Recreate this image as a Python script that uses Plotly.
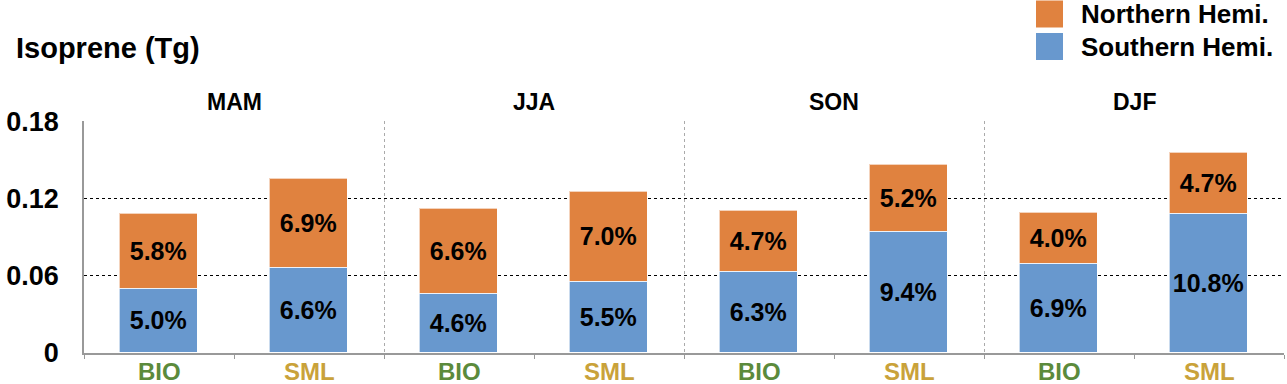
import plotly.graph_objects as go

# ---- data ----
seasons = ["MAM", "JJA", "SON", "DJF"]
models = ["BIO", "SML"]
model_colors = ["#5B8A3C", "#C9A23A"]
south = [0.050, 0.066, 0.046, 0.055, 0.063, 0.094, 0.069, 0.108]
north = [0.058, 0.069, 0.066, 0.070, 0.047, 0.052, 0.040, 0.047]
south_lbl = ["5.0%", "6.6%", "4.6%", "5.5%", "6.3%", "9.4%", "6.9%", "10.8%"]
north_lbl = ["5.8%", "6.9%", "6.6%", "7.0%", "4.7%", "5.2%", "4.0%", "4.7%"]
y_ticks = [0, 0.06, 0.12, 0.18]
y_ticktext = ["0", "0.06", "0.12", "0.18"]
series_names = ["Northern Hemi.", "Southern Hemi."]

ORANGE = "#E0823F"
BLUE = "#6898CE"
FONT = "Liberation Sans, Arial, sans-serif"

nm = len(models)
ns = len(seasons)
xpos = [s * nm + m + 0.5 for s in range(ns) for m in range(nm)]

fig = go.Figure()
fig.add_trace(go.Bar(
    x=xpos, y=south, width=0.52, name=series_names[1],
    marker=dict(color=BLUE, line=dict(color="rgba(255,255,255,0.65)", width=1.5)),
    text=south_lbl, textposition="inside", insidetextanchor="middle",
    insidetextfont=dict(color="black", size=25, family=FONT, weight="bold"),
    constraintext="none", showlegend=False,
))
fig.add_trace(go.Bar(
    x=xpos, y=north, width=0.52, name=series_names[0],
    marker=dict(color=ORANGE, line=dict(color="rgba(255,255,255,0.65)", width=1.5)),
    text=north_lbl, textposition="inside", insidetextanchor="middle",
    insidetextfont=dict(color="black", size=25, family=FONT, weight="bold"),
    constraintext="none", showlegend=False,
))

# invisible trace on overlay axis for group separators
fig.add_trace(go.Scatter(x=[0, ns * nm], y=[0, 0], xaxis="x2", mode="lines",
                         line=dict(width=0), hoverinfo="skip", showlegend=False))

xmax = ns * nm
annotations = []
# season headers
for s, name in enumerate(seasons):
    annotations.append(dict(x=s * nm + nm / 2, y=1, xref="x", yref="paper",
                            text=name, showarrow=False, yshift=19, yanchor="middle",
                            font=dict(size=23, family=FONT, color="black", weight="bold")))
# model labels
for s in range(ns):
    for m, mname in enumerate(models):
        annotations.append(dict(x=s * nm + m + 0.5, y=0, xref="x", yref="paper",
                                text=mname, showarrow=False, yshift=-18, yanchor="middle",
                                borderpad=0,
                                font=dict(size=24, family=FONT, color=model_colors[m], weight="bold")))
# y title
annotations.append(dict(x=-70 / 1200, y=(353 - 48) / 232, xref="paper", yref="paper",
                        text="Isoprene (Tg)", showarrow=False, xanchor="left", yanchor="middle",
                        font=dict(size=29, family=FONT, color="black", weight="bold")))
# legend
leg_colors = [ORANGE, BLUE]
leg_y = [14, 46.5]
shapes = []
for i, (nmz, col) in enumerate(zip(series_names, leg_colors)):
    cy = (353 - leg_y[i]) / 232
    h = 13.5 / 232
    shapes.append(dict(type="rect", xref="paper", yref="paper",
                       x0=(1036 - 84) / 1200, x1=(1063 - 84) / 1200,
                       y0=cy - h, y1=cy + h, fillcolor=col, line=dict(width=0)))
    annotations.append(dict(x=(1079 - 84) / 1200, y=cy, xref="paper", yref="paper",
                            text=nmz, showarrow=False, xanchor="left", yanchor="middle",
                            font=dict(size=26, family=FONT, color="black", weight="bold")))

fig.update_layout(
    width=1287, height=384,
    margin=dict(l=84, r=3, t=121, b=31, autoexpand=False),
    paper_bgcolor="white", plot_bgcolor="white",
    barmode="stack", bargap=0,
    annotations=annotations, shapes=shapes,
    xaxis=dict(range=[0, xmax], tickvals=list(range(xmax + 1)),
               ticktext=[""] * (xmax + 1), ticks="outside", ticklen=4,
               tickcolor="#999999", showgrid=False, zeroline=False, automargin=False,
               showline=True, linecolor="#999999", linewidth=1.5, fixedrange=True),
    xaxis2=dict(range=[0, xmax], overlaying="x", tickvals=list(range(nm, xmax + 1, nm)),
                showticklabels=False, showgrid=True, gridcolor="#aaaaaa", automargin=False,
                griddash="dot", gridwidth=1.2, zeroline=False, showline=False, ticks=""),
    yaxis=dict(range=[0, 0.1802], tickvals=y_ticks, ticktext=y_ticktext,
               tickfont=dict(size=27, family=FONT, color="black", weight="bold"),
               showgrid=True, gridcolor="black", griddash="dot", gridwidth=1,
               zeroline=False, showline=True, linecolor="#999999", linewidth=1.5,
               ticks="", ticklabelstandoff=18, automargin=False),
    font=dict(family=FONT),
)

fig.write_html("out.html", config={"displayModeBar": False},
               post_script="document.body.style.margin='0';document.body.style.overflow='hidden';")
